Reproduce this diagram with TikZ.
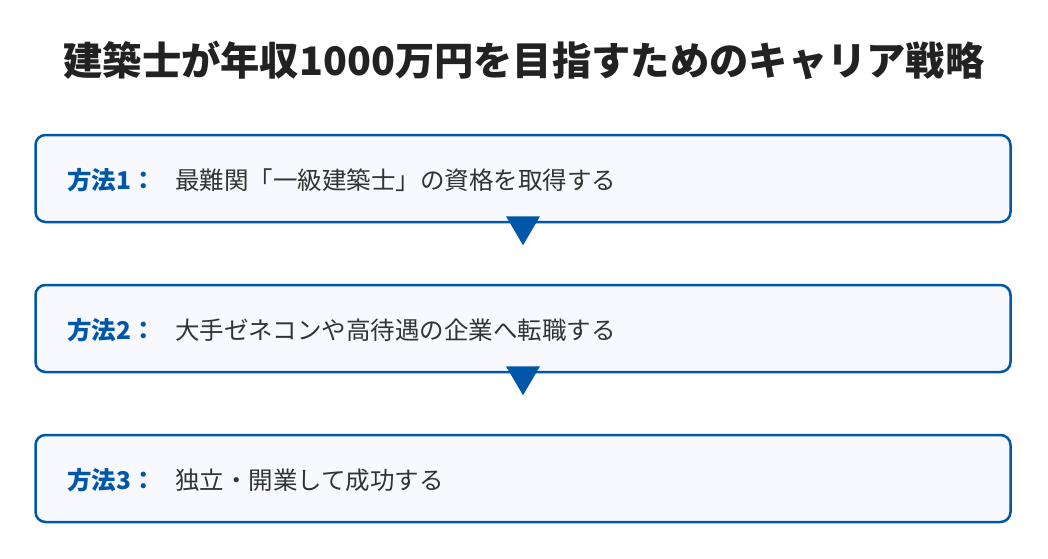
\documentclass[tikz,border=0pt]{standalone}
\usepackage{fontspec}
\setmainfont{Noto Sans CJK JP}
\usetikzlibrary{positioning}

\definecolor{mainblue}{HTML}{0057A8}
\definecolor{boxfill}{HTML}{F7F9FE}
\definecolor{titlegray}{HTML}{222222}
\definecolor{textgray}{HTML}{333333}

\tikzset{
  stepbox/.style={draw=mainblue, line width=2.5pt, fill=boxfill,
    rounded corners=10pt, minimum width=975pt, minimum height=87pt, inner sep=0pt},
  steplabel/.style={anchor=west, inner sep=0pt, text=mainblue,
    font=\fontsize{24.5}{28}\selectfont\bfseries},
  steptext/.style={anchor=west, inner sep=0pt, text=textgray,
    font=\fontsize{24.5}{28}\selectfont},
}

\begin{document}
\begin{tikzpicture}[x=1pt,y=-1pt]
  % Canvas
    \useasboundingbox (0,0) rectangle (1048,558);
    \fill[white] (0,0) rectangle (1048,558);

  % Title
    \node[text=titlegray, font=\fontsize{39.3}{46}\selectfont\bfseries] (title) at (524,60)
      {建築士が年収1000万円を目指すためのキャリア戦略};

  % Boxes with labels
    \foreach \i/\y/\txt in {1/178.5/{最難関「一級建築士」の資格を取得する},
                            2/328.5/{大手ゼネコンや高待遇の企業へ転職する},
                            3/478.5/{独立・開業して成功する}} {
      \node[stepbox] (box\i) at (523,\y) {};
      \node[steplabel] (lab\i) at (67,\y+2) {方法\i：};
      \node[steptext] (txt\i) at (175,\y+2) {\txt};
    }

  % Arrow triangles between boxes
    \foreach \i in {1,2} {
      \fill[mainblue] ([xshift=-17pt,yshift=7pt]box\i.south)
        -- ([xshift=17pt,yshift=7pt]box\i.south)
        -- ([yshift=-22pt]box\i.south) -- cycle;
    }

\end{tikzpicture}
\end{document}
